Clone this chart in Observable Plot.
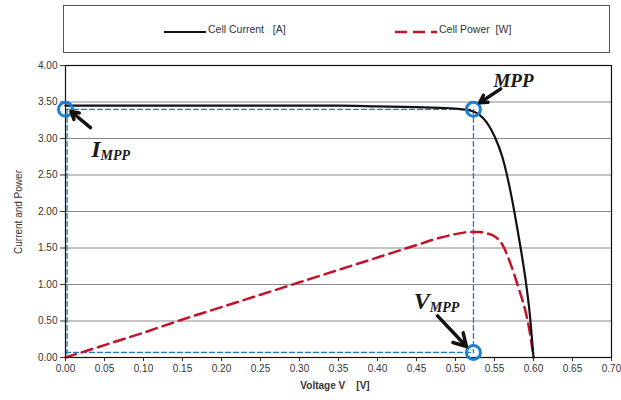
<!DOCTYPE html>
<html><head><meta charset="utf-8">
<script src="https://cdn.jsdelivr.net/npm/d3@7"></script>
<script src="https://cdn.jsdelivr.net/npm/@observablehq/plot@0.6"></script>
<style>
body{margin:0;background:#fff;width:621px;height:400px;position:relative;overflow:hidden;font-family:"Liberation Sans",Arial,sans-serif;color:#333}
#legend{position:absolute;left:63px;top:5px;width:547px;height:48px;border:1px solid #555;box-sizing:border-box;background:#fff}
.li{position:absolute;top:17px;font-size:10.5px;white-space:pre;color:#333}
.lsw{position:absolute;top:24px}
#chart{position:absolute;left:0;top:55px}
#ylab{position:absolute;left:18px;top:212px;transform:translate(-50%,-50%) rotate(-90deg);font-size:10px;white-space:pre;color:#333}
#xlab{position:absolute;left:335px;top:385px;transform:translate(-50%,-50%);font-size:10px;font-weight:bold;white-space:pre;color:#333}
</style></head>
<body>
<div id="legend"></div>
<div id="chart"></div>
<div id="ylab"></div>
<div id="xlab"></div>
<script>
// ---- data ----
const voltage = [0,0.05,0.10,0.15,0.20,0.25,0.30,0.35,0.40,0.45,0.48,0.50,0.52,0.53,0.54,0.55,0.56,0.57,0.58,0.59,0.595,0.60];
const current = [3.45,3.45,3.45,3.45,3.45,3.45,3.45,3.45,3.44,3.43,3.42,3.41,3.38,3.33,3.22,3.03,2.75,2.30,1.72,1.05,0.62,0];
const power   = [0,0.17,0.34,0.52,0.69,0.86,1.03,1.20,1.37,1.54,1.64,1.69,1.72,1.72,1.70,1.66,1.55,1.30,0.98,0.62,0.36,0];
const seriesNames = ["Cell Current   [A]", "Cell Power  [W]"];
const xTicks = [0,0.05,0.10,0.15,0.20,0.25,0.30,0.35,0.40,0.45,0.50,0.55,0.60,0.65,0.70];
const yTicks = [0,0.5,1,1.5,2,2.5,3,3.5,4];
const vMpp = 0.523, iMpp = 3.40, vLineY = 0.07;
const xTitle = "Voltage V    [V]";
const yTitle = "Current and Power";
const annLabels = [
  {main:"MPP", sub:"", x:0.600, y:3.79},
  {main:"I", sub:"MPP", x:0.045, y:2.85},
  {main:"V", sub:"MPP", x:0.467, y:0.77}
];
const annArrows = [
  {x1:0.558, y1:3.68, x2:0.531, y2:3.49},
  {x1:0.032, y1:3.15, x2:0.007, y2:3.37},
  {x1:0.477, y1:0.57, x2:0.514, y2:0.15}
];

// ---- build ----
const curData = voltage.map((v,i)=>({v, val: current[i]}));
const powData = voltage.map((v,i)=>({v, val: power[i]}));
const blue = "#1f78c8";
const gridVals = yTicks.filter(t=>t>0 && t<4);
const guide = {x:"v", y:"val", stroke: blue, strokeWidth: 1.3, strokeDasharray: "5,3"};

const plot = Plot.plot({
  width: 621, height: 345,
  marginLeft: 65, marginRight: 10, marginTop: 10, marginBottom: 43,
  style: {fontFamily: "Liberation Sans, Arial, sans-serif", fontSize: "10px", color: "#333", background: "#fff"},
  x: {domain: [0, 0.7]},
  y: {domain: [0, 4]},
  marks: [
    Plot.ruleY(gridVals, {stroke: "#8a8a8a", strokeWidth: 1, strokeOpacity: 1}),
    Plot.axisX({ticks: xTicks, tickFormat: d3.format(".2f"), tickSize: 4, tickPadding: 3, label: null, stroke: "#333"}),
    Plot.axisY({ticks: yTicks, tickFormat: d3.format(".2f"), tickSize: 5, tickPadding: 3, label: null, stroke: "#333"}),
    // MPP guide lines
    Plot.line([{v:0,val:iMpp},{v:vMpp,val:iMpp}], guide),
    Plot.line([{v:vMpp,val:iMpp},{v:vMpp,val:vLineY}], guide),
    Plot.line([{v:0,val:vLineY},{v:vMpp,val:vLineY}], guide),
    Plot.line([{v:0.002,val:iMpp},{v:0.002,val:0}], guide),
    // curves
    Plot.line(powData, {x:"v", y:"val", stroke: "#c0142a", strokeWidth: 2.5, strokeDasharray: "11,6", curve: "monotone-x"}),
    Plot.line(curData, {x:"v", y:"val", stroke: "#111", strokeWidth: 2.2, curve: "monotone-x"}),
    Plot.frame({stroke: "#111", strokeWidth: 1.2}),
    // circles
    Plot.dot([{v:0,val:iMpp},{v:vMpp,val:iMpp},{v:vMpp,val:vLineY}], {x:"v", y:"val", r: 7, stroke: "#1a7fd0", strokeWidth: 3, fill: "none"}),
    // arrows
    Plot.arrow(annArrows, {x1:"x1", y1:"y1", x2:"x2", y2:"y2", stroke: "#111", strokeWidth: 3.5, headLength: 9, bend: 0}),
    // labels
    Plot.text(annLabels, {x:"x", y:"y", text:"main", fontFamily: "Liberation Serif, Times New Roman, serif", fontStyle: "italic", fontWeight: "bold", fontSize: d=>d.sub? 24: 19, textAnchor: "end", fill: "#1a1a1a"}),
    Plot.text(annLabels.filter(d=>d.sub), {x:"x", y:"y", text:"sub", dy: 6, fontFamily: "Liberation Serif, Times New Roman, serif", fontStyle: "italic", fontWeight: "bold", fontSize: 14, textAnchor: "start", fill: "#1a1a1a"})
  ]
});
document.getElementById("chart").appendChild(plot);
document.getElementById("xlab").textContent = xTitle;
document.getElementById("ylab").textContent = yTitle;

// legend (HTML box above the svg)
const lg = document.getElementById("legend");
lg.innerHTML = `
<svg class="lsw" style="left:100px" width="42" height="4"><line x1="0" y1="2" x2="42" y2="2" stroke="#111" stroke-width="2.2"/></svg>
<div class="li" style="left:144px">${seriesNames[0]}</div>
<svg class="lsw" style="left:331px" width="42" height="4"><line x1="0" y1="2" x2="42" y2="2" stroke="#c0142a" stroke-width="2.5" stroke-dasharray="12,6"/></svg>
<div class="li" style="left:375px">${seriesNames[1]}</div>`;
</script>
</body></html>
